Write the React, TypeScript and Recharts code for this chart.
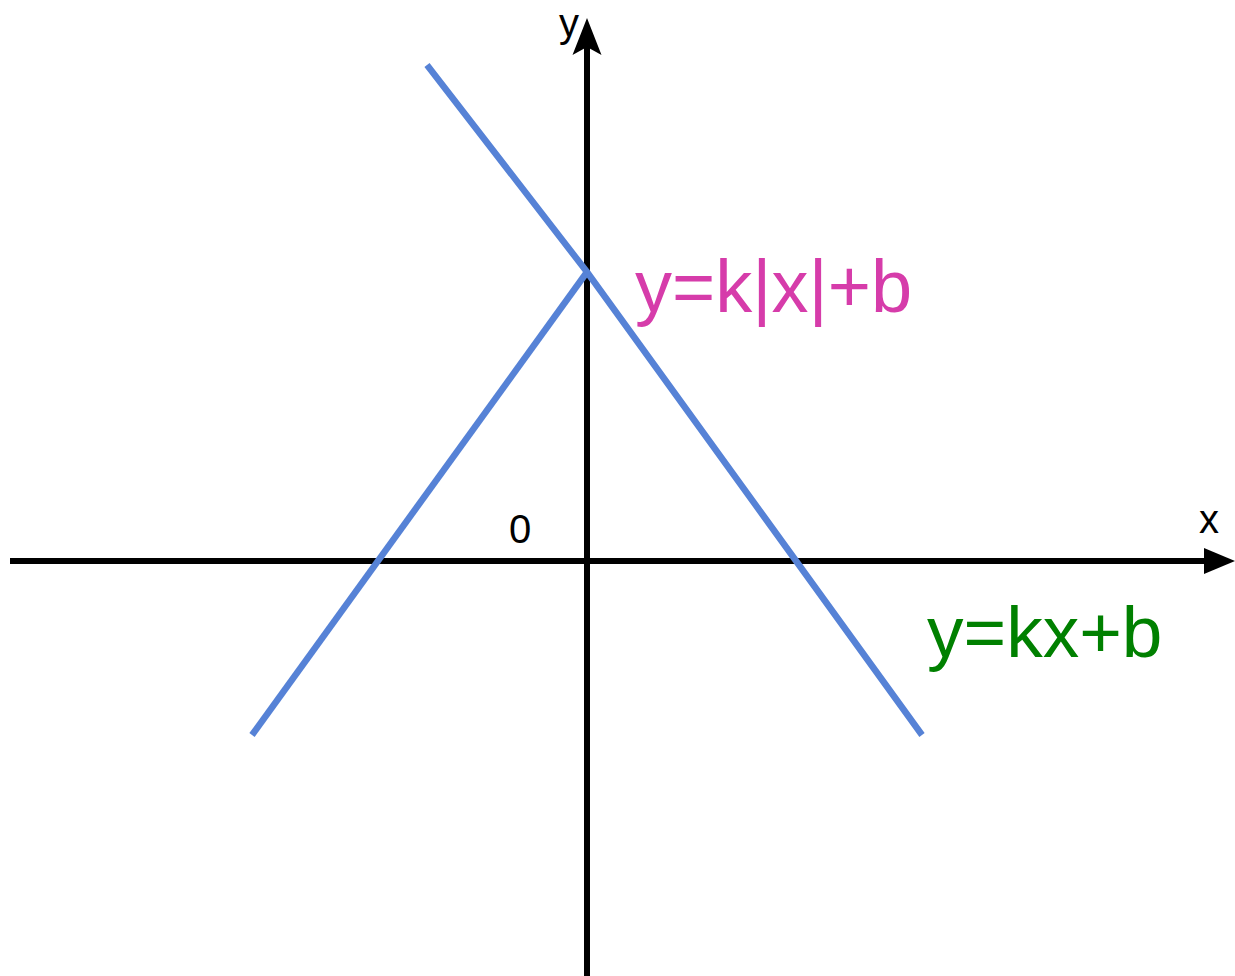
import { ComposedChart, Line, ReferenceDot, ReferenceLine, XAxis, YAxis } from "recharts";

// coordinate plane, origin at the axes crossing
const xDomain = [-11.74, 12.96];
const yDomain = [-8.3, 11.22];

// y=kx+b drawn through the peak
const lineX = [-3.2, 0, 6.7];
const lineY = [9.92, 5.78, -3.48];

// left branch of y=k|x|+b
const absX = [-6.7, 0];
const absY = [-3.48, 5.78];

// axes: from start to arrow tip
const xAxisSpan = [-11.54, 12.96];
const yAxisSpan = [-8.3, 10.86];

// labels: text, x, y
const labelText = ["y=k|x|+b", "y=kx+b", "0", "x", "y"];
const labelX = [0.96, 6.8, -1.34, 12.44, -0.36];
const labelY = [4.98, -1.92, 0.36, 0.56, 10.48];

const lineData = lineX.map((x, i) => ({ x, y: lineY[i] }));
const absData = absX.map((x, i) => ({ x, y: absY[i] }));

const FONT = "'Liberation Sans', Arial, sans-serif";
const BLUE = "#5682d6";

type LabelStyle = { color: string; size: number; anchor: "start" | "middle" };
const labelStyles: LabelStyle[] = [
  { color: "#d63caa", size: 74, anchor: "start" },
  { color: "#008000", size: 73, anchor: "start" },
  { color: "#000000", size: 40, anchor: "middle" },
  { color: "#000000", size: 40, anchor: "middle" },
  { color: "#000000", size: 40, anchor: "middle" },
];

function arrowShape(len: number, half: number, notch: number) {
  return (props: any) => {
    const { x1, y1, x2, y2 } = props;
    const dx = x2 - x1;
    const dy = y2 - y1;
    const d = Math.hypot(dx, dy) || 1;
    const ux = dx / d;
    const uy = dy / d;
    const px = -uy;
    const py = ux;
    const bx = x2 - ux * len;
    const by = y2 - uy * len;
    const nx = x2 - ux * (len - notch);
    const ny = y2 - uy * (len - notch);
    const pts = [
      `${x2},${y2}`,
      `${bx + px * half},${by + py * half}`,
      `${nx},${ny}`,
      `${bx - px * half},${by - py * half}`,
    ].join(" ");
    return (
      <g>
        <line x1={x1} y1={y1} x2={nx} y2={ny} stroke="#000" strokeWidth={6} />
        <polygon points={pts} fill="#000" />
      </g>
    );
  };
}

export default function App() {
  return (
    <div style={{ width: 1235, height: 976 }}>
      <style>{`body{margin:0}`}</style>
      <ComposedChart width={1235} height={976} margin={{ top: 0, right: 0, bottom: 0, left: 0 }}>
        <XAxis type="number" dataKey="x" domain={xDomain} allowDataOverflow hide />
        <YAxis type="number" domain={yDomain} allowDataOverflow hide />

        <ReferenceLine
          segment={[
            { x: xAxisSpan[0], y: 0 },
            { x: xAxisSpan[1], y: 0 },
          ]}
          ifOverflow="visible"
          shape={arrowShape(31, 13, 0)}
        />
        <ReferenceLine
          segment={[
            { x: 0, y: yAxisSpan[0] },
            { x: 0, y: yAxisSpan[1] },
          ]}
          ifOverflow="visible"
          shape={arrowShape(37, 14.5, 8)}
        />

        <Line
          data={absData}
          dataKey="y"
          type="linear"
          stroke={BLUE}
          strokeWidth={6.5}
          dot={false}
          activeDot={false}
          isAnimationActive={false}
        />
        <Line
          data={lineData}
          dataKey="y"
          type="linear"
          stroke={BLUE}
          strokeWidth={6.5}
          dot={false}
          activeDot={false}
          isAnimationActive={false}
        />

        {labelText.map((t, i) => (
          <ReferenceDot
            key={t}
            x={labelX[i]}
            y={labelY[i]}
            ifOverflow="visible"
            shape={(p: any) => (
              <text
                x={p.cx}
                y={p.cy}
                fill={labelStyles[i].color}
                fontSize={labelStyles[i].size}
                fontFamily={FONT}
                textAnchor={labelStyles[i].anchor}
              >
                {t}
              </text>
            )}
          />
        ))}
      </ComposedChart>
    </div>
  );
}
